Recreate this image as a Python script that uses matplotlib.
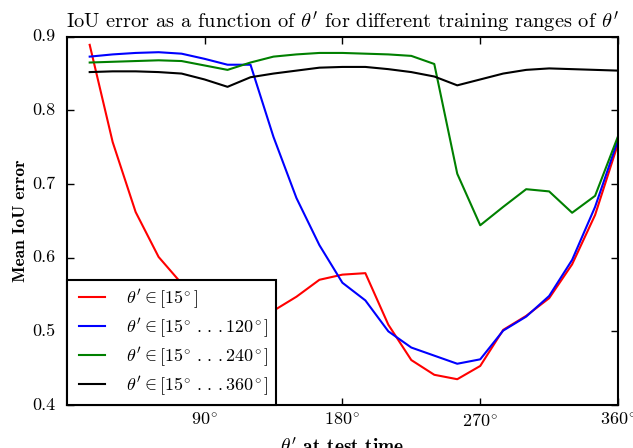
import numpy as np
import matplotlib
matplotlib.use("Agg")
import matplotlib.pyplot as plt

# test angles (degrees)
theta = [15, 30, 45, 60, 75, 90, 105, 120, 135, 150, 165, 180,
         195, 210, 225, 240, 255, 270, 285, 300, 315, 330, 345, 360]

iou_15 = [0.889, 0.757, 0.662, 0.601, 0.565, 0.550, 0.537, 0.527, 0.528, 0.547, 0.570, 0.577,
          0.579, 0.509, 0.461, 0.441, 0.435, 0.453, 0.502, 0.521, 0.545, 0.591, 0.658, 0.755]
iou_120 = [0.873, 0.876, 0.878, 0.879, 0.877, 0.870, 0.862, 0.862, 0.764, 0.681, 0.617, 0.566,
           0.542, 0.500, 0.478, 0.467, 0.456, 0.462, 0.501, 0.520, 0.548, 0.597, 0.669, 0.760]
iou_240 = [0.865, 0.866, 0.867, 0.868, 0.867, 0.861, 0.855, 0.865, 0.873, 0.876, 0.878, 0.878,
           0.877, 0.876, 0.874, 0.863, 0.714, 0.644, 0.669, 0.693, 0.690, 0.661, 0.684, 0.765]
iou_360 = [0.852, 0.853, 0.853, 0.852, 0.850, 0.842, 0.832, 0.845, 0.850, 0.854, 0.858, 0.859,
           0.859, 0.856, 0.852, 0.846, 0.834, 0.842, 0.850, 0.855, 0.857, 0.856, 0.855, 0.854]

labels = [r"$\theta' \in [15^{\!\circ}]$",
          r"$\theta' \in [15^{\!\circ}\,.\,.\,.120^{\!\circ}]$",
          r"$\theta' \in [15^{\!\circ}\,.\,.\,.240^{\!\circ}]$",
          r"$\theta' \in [15^{\!\circ}\,.\,.\,.360^{\!\circ}]$"]
colors = ["r", "b", "g", "k"]

xticks = [90, 180, 270, 360]
yticks = [0.4, 0.5, 0.6, 0.7, 0.8, 0.9]

plt.style.use("classic")
plt.rcParams["font.family"] = "serif"
plt.rcParams["font.serif"] = ["cmr10"]
plt.rcParams["mathtext.fontset"] = "cm"
plt.rcParams["axes.unicode_minus"] = False

fig = plt.figure(figsize=(6.33, 4.48), dpi=100, facecolor="white")
ax = fig.add_axes([0.1054, 0.096, 0.871, 0.822])

for ys, c, lab in zip([iou_15, iou_120, iou_240, iou_360], colors, labels):
    ax.plot(theta, ys, color=c, lw=1.5, label=lab)

ax.set_xlim(0, 360)
ax.set_ylim(0.4, 0.9)
ax.set_xticks(xticks)
ax.set_xticklabels([r"$%d^{\!\circ}$" % t for t in xticks], fontsize=13)
ax.set_yticks(yticks)
ax.set_yticklabels(["%.1f" % v for v in yticks], fontsize=13)
ax.tick_params(direction="in", length=5, width=1, pad=8)
ax.tick_params(axis="x", pad=5)
for s in ax.spines.values():
    s.set_linewidth(1.5)

ax.set_title(r"IoU error as a function of $\theta'$ for different training ranges of $\theta'$",
             fontsize=14.7, pad=6)
ax.set_ylabel("Mean IoU error", fontfamily="cmb10", fontsize=12.5, labelpad=3)
ax.set_xlabel(r"$\theta'$ at test time", fontfamily="cmb10", fontsize=14, labelpad=6)

leg = ax.legend(loc="lower left", bbox_to_anchor=(0, 0), borderaxespad=0,
                fontsize=13, handlelength=2.0, handletextpad=0.9,
                labelspacing=0.3, borderpad=0.4, fancybox=False, frameon=True)
leg.get_frame().set_edgecolor("black")
leg.get_frame().set_linewidth(1.5)

fig.savefig("out.png", dpi=100, facecolor="white")
